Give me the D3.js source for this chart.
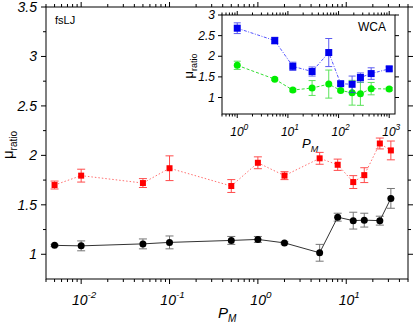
<!DOCTYPE html>
<html>
<head>
<meta charset="utf-8">
<script src="https://cdn.jsdelivr.net/npm/d3@7"></script>
<style>
  body { margin: 0; background: #fff; }
  text { font-family: "Liberation Sans", Arial, sans-serif; }
</style>
</head>
<body>
<svg id="chart"></svg>
<script>
// main panel (fsLJ)
const pmMain = [0.005, 0.01, 0.05, 0.1, 0.5, 1, 2, 5, 8, 12, 16, 24, 32];
const blackVals = [1.09, 1.085, 1.105, 1.12, 1.14, 1.15, 1.115, 1.015, 1.375, 1.34, 1.345, 1.34, 1.565];
const blackErr = [0.01, 0.05, 0.05, 0.065, 0.04, 0.03, 0.01, 0.085, 0.04, 0.085, 0.07, 0.045, 0.1];
const redVals = [1.70, 1.795, 1.72, 1.87, 1.69, 1.925, 1.795, 1.97, 1.905, 1.73, 1.80, 2.12, 2.05];
const redErr = [0.04, 0.065, 0.045, 0.125, 0.065, 0.06, 0.04, 0.06, 0.057, 0.065, 0.075, 0.055, 0.095];

// inset (WCA)
const pmInset = [1, 5.5, 12.5, 30, 64, 110, 185, 270, 440, 1000];
const blueVals = [2.68, 2.38, 1.755, 1.63, 2.09, 1.335, 1.32, 1.485, 1.58, 1.695];
const blueErr = [0.13, 0.08, 0.1, 0.11, 0.34, 0.04, 0.2, 0.11, 0.14, 0.05];
const greenVals = [1.78, 1.445, 1.18, 1.23, 1.325, 1.17, 1.115, 1.09, 1.215, 1.205];
const greenErr = [0.1, 0.03, 0.04, 0.18, 0.34, 0.03, 0.3, 0.28, 0.15, 0.04];

// ticks
const mainYTicks = [1, 1.5, 2, 2.5, 3, 3.5];
const mainYMinor = [1.25, 1.75, 2.25, 2.75, 3.25];
const mainXTicks = [0.01, 0.1, 1, 10];
const mainXExp = ['-2', '-1', '0', '1'];
const insetYTicks = [1, 1.5, 2, 2.5, 3];
const insetYLabels = ['1', '1.5', '2', '2.5', '3'];
const insetXTicks = [1, 10, 100, 1000];
const insetXExp = ['0', '1', '2', '3'];

const width = 415, height = 324;
const svg = d3.select('#chart').attr('width', width).attr('height', height);

function logMinor(scale) {
  const [a, b] = scale.domain();
  return scale.ticks().filter(t => t >= a && t <= b);
}

function drawPanel(g, x, y, opt) {
  const [x0, x1] = x.range();
  const [y0, y1] = y.range();

  g.append('rect')
    .attr('x', x0).attr('y', y1)
    .attr('width', x1 - x0).attr('height', y0 - y1)
    .attr('fill', '#fff')
    .attr('stroke', '#000')
    .attr('stroke-width', 1);

  const ticks = g.append('g').attr('stroke', '#000').attr('stroke-width', 1);
  const minorX = logMinor(x);
  const majorX = opt.xTicks;
  minorX.forEach(t => {
    const isMajor = majorX.some(m => Math.abs(m - t) / m < 1e-6);
    const len = isMajor ? opt.major : opt.minor;
    const px = x(t);
    ticks.append('line').attr('x1', px).attr('x2', px).attr('y1', y0).attr('y2', y0 + len);
    ticks.append('line').attr('x1', px).attr('x2', px).attr('y1', y1).attr('y2', y1 - len);
  });
  opt.yTicks.forEach(t => {
    const py = y(t);
    ticks.append('line').attr('x1', x0).attr('x2', x0 - opt.major).attr('y1', py).attr('y2', py);
    ticks.append('line').attr('x1', x1).attr('x2', x1 + opt.major).attr('y1', py).attr('y2', py);
  });
  opt.yMinor.forEach(t => {
    const py = y(t);
    ticks.append('line').attr('x1', x0).attr('x2', x0 - opt.minor).attr('y1', py).attr('y2', py);
    ticks.append('line').attr('x1', x1).attr('x2', x1 + opt.minor).attr('y1', py).attr('y2', py);
  });

  // y tick labels
  g.selectAll('.ylab')
    .data(opt.yTicks)
    .enter()
    .append('text')
    .attr('x', x0 - opt.ylabPad)
    .attr('y', d => y(d))
    .attr('dy', '0.35em')
    .attr('text-anchor', 'end')
    .style('font-size', opt.tickFont + 'px')
    .style('font-style', 'italic')
    .text((d, i) => opt.yLabels[i]);

  // x tick labels as 10^n
  majorX.forEach((t, i) => {
    const txt = g.append('text')
      .attr('x', x(t) + opt.xlabShift)
      .attr('y', y0 + opt.xlabPad)
      .attr('text-anchor', 'middle')
      .style('font-size', opt.tickFont + 'px')
      .style('font-style', 'italic');
    txt.append('tspan').text('10');
    txt.append('tspan')
      .attr('dy', -opt.tickFont * 0.5)
      .style('font-size', (opt.tickFont * 0.7) + 'px')
      .text(opt.xExp[i]);
  });
}

function errorBars(g, x, y, xs, vals, errs, color, cap, opacity) {
  const eb = g.append('g').attr('stroke', color).attr('stroke-width', 1).attr('opacity', opacity);
  xs.forEach((xv, i) => {
    const px = x(xv), top = y(vals[i] + errs[i]), bot = y(vals[i] - errs[i]);
    eb.append('line').attr('x1', px).attr('x2', px).attr('y1', top).attr('y2', bot);
    eb.append('line').attr('x1', px - cap).attr('x2', px + cap).attr('y1', top).attr('y2', top);
    eb.append('line').attr('x1', px - cap).attr('x2', px + cap).attr('y1', bot).attr('y2', bot);
  });
}

function series(g, x, y, xs, vals, errs, s) {
  errorBars(g, x, y, xs, vals, errs, s.errColor, s.cap, s.errOpacity);
  const pts = xs.map((d, i) => [d, vals[i]]);
  const line = d3.line().x(d => x(d[0])).y(d => y(d[1]));
  g.append('path')
    .datum(pts)
    .attr('fill', 'none')
    .attr('stroke', s.lineColor)
    .attr('stroke-width', 1)
    .attr('stroke-dasharray', s.dash)
    .attr('d', line);
  if (s.shape === 'circle') {
    g.selectAll(null).data(pts).enter().append('circle')
      .attr('cx', d => x(d[0])).attr('cy', d => y(d[1]))
      .attr('r', s.size / 2)
      .attr('fill', s.color);
  } else {
    g.selectAll(null).data(pts).enter().append('rect')
      .attr('x', d => x(d[0]) - s.size / 2).attr('y', d => y(d[1]) - s.size / 2)
      .attr('width', s.size).attr('height', s.size)
      .attr('fill', s.color);
  }
}

// ---- main panel ----
const xMain = d3.scaleLog().domain([0.004, 50]).range([46, 408]);
const yMain = d3.scaleLinear().domain([0.75, 3.5]).range([279, 7]);
const main = svg.append('g');

drawPanel(main, xMain, yMain, {
  xTicks: mainXTicks, xExp: mainXExp,
  yTicks: mainYTicks, yMinor: mainYMinor,
  yLabels: mainYTicks.map(d => String(d)),
  major: 5, minor: 3, tickFont: 14, ylabPad: 9, xlabPad: 26, xlabShift: 3
});

series(main, xMain, yMain, pmMain, redVals, redErr, {
  color: '#ff0000', lineColor: '#ff7070', dash: '1.5,2', errColor: '#ff2020',
  errOpacity: 0.8, cap: 4, shape: 'square', size: 6
});
series(main, xMain, yMain, pmMain, blackVals, blackErr, {
  color: '#000', lineColor: '#333', dash: null, errColor: '#555',
  errOpacity: 0.8, cap: 4, shape: 'circle', size: 7
});

main.append('text')
  .attr('x', 55).attr('y', 24)
  .style('font-size', '11px')
  .text('fsLJ');

const mx = main.append('text')
  .attr('x', 218).attr('y', 318)
  .style('font-size', '15px')
  .style('font-style', 'italic');
mx.append('tspan').text('P');
mx.append('tspan').attr('dy', 4).style('font-size', '10px').text('M');

const my = main.append('text')
  .attr('transform', 'translate(13,145) rotate(-90)')
  .attr('text-anchor', 'middle')
  .style('font-size', '15px');
my.append('tspan').text('\u03bc');
my.append('tspan').attr('dy', 4).style('font-size', '10px').text('ratio');

// ---- inset panel ----
const xIn = d3.scaleLog().domain([0.5, 1300]).range([222, 395]);
const yIn = d3.scaleLinear().domain([0.6, 3]).range([114, 15]);
const inset = svg.append('g');

drawPanel(inset, xIn, yIn, {
  xTicks: insetXTicks, xExp: insetXExp,
  yTicks: insetYTicks, yMinor: [],
  yLabels: insetYLabels,
  major: 4, minor: 2.5, tickFont: 12, ylabPad: 7, xlabPad: 22, xlabShift: 2
});

series(inset, xIn, yIn, pmInset, greenVals, greenErr, {
  color: '#00ee00', lineColor: '#33dd33', dash: '3,2', errColor: '#33dd33',
  errOpacity: 0.8, cap: 3.5, shape: 'circle', size: 7
});
series(inset, xIn, yIn, pmInset, blueVals, blueErr, {
  color: '#0000ee', lineColor: '#5555ff', dash: '3,1.5,1,1.5', errColor: '#3333ee',
  errOpacity: 0.8, cap: 3.5, shape: 'square', size: 7
});

inset.append('text')
  .attr('x', 386).attr('y', 31)
  .attr('text-anchor', 'end')
  .style('font-size', '12px')
  .text('WCA');

const ix = inset.append('text')
  .attr('x', 302).attr('y', 148)
  .style('font-size', '13px')
  .style('font-style', 'italic');
ix.append('tspan').text('P');
ix.append('tspan').attr('dy', 4).style('font-size', '9px').text('M');

const iy = inset.append('text')
  .attr('transform', 'translate(193,66) rotate(-90)')
  .attr('text-anchor', 'middle')
  .style('font-size', '13px');
iy.append('tspan').text('\u03bc');
iy.append('tspan').attr('dy', 4).style('font-size', '9px').text('ratio');
</script>
</body>
</html>
